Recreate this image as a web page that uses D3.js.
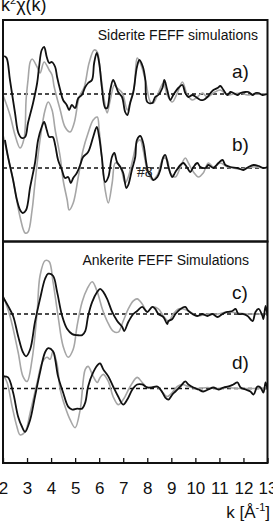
<!DOCTYPE html>
<html>
<head>
<meta charset="utf-8">
<script src="https://cdnjs.cloudflare.com/ajax/libs/d3/7.8.5/d3.min.js"></script>
<style>
body { margin: 0; background: #fff; }
svg { display: block; font-family: "Liberation Sans", Arial, sans-serif; }
</style>
</head>
<body>
<svg id="chart"></svg>
<script>
// data: [k, k^2 chi] (arbitrary units, each curve around its own zero line)
var kTicks = [2, 3, 4, 5, 6, 7, 8, 9, 10, 11, 12, 13];

var sideriteA_exp = [[2.05,3.8],[2.15,3.6],[2.29,1.4],[2.5,-1.9],[2.64,-3.9],[2.78,-4.4],[2.92,-4.3],[3.04,-2.9],[3.25,-0.9],[3.42,1.1],[3.5,2.7],[3.61,4.4],[3.71,4.7],[3.82,3.7],[3.92,3.1],[4.03,3.2],[4.17,2.7],[4.25,1.7],[4.38,0.4],[4.5,-0.6],[4.65,-1.1],[4.75,-1.6],[4.86,-1.1],[5.0,-1.4],[5.13,-0.4],[5.28,-0.1],[5.42,0.7],[5.54,1.1],[5.7,1.4],[5.79,3.1],[5.9,4.1],[6.0,3.1],[6.11,0.7],[6.25,-1.4],[6.33,-1.4],[6.46,0.4],[6.58,1.4],[6.71,0.7],[6.79,0.2],[6.95,-0.3],[7.08,-1.8],[7.17,-2.1],[7.29,-0.9],[7.42,0.2],[7.57,2.7],[7.67,3.4],[7.82,2.7],[7.92,1.4],[8.0,-0.8],[8.21,-0.9],[8.33,-0.3],[8.46,-0.1],[8.63,0.6],[8.71,1.4],[8.83,0.4],[8.96,-0.6],[9.08,-0.1],[9.29,0.6],[9.46,0.9],[9.58,0.1],[9.71,-0.3],[9.88,-0.1],[10.08,-0.4],[10.21,-0.6],[10.33,-0.6],[10.5,-0.3],[10.63,0.1],[10.75,0.4],[10.92,0.6],[11.04,0.8],[11.17,0.4],[11.33,-0.1],[11.46,0.2],[11.58,0.1],[11.75,-0.1],[11.88,0.1],[12.08,0.2],[12.21,0.2],[12.38,-0.1],[12.5,0.1],[12.63,0.1],[12.79,-0.1],[13.0,0]];
var sideriteA_sim = [[2.0,-0.1],[2.29,-2.1],[2.5,-4.1],[2.71,-5.4],[2.88,-4.4],[2.96,-0.6],[3.04,1.4],[3.13,3.2],[3.21,3.5],[3.42,2.7],[3.54,2.1],[3.71,3.2],[3.92,2.4],[4.04,1.9],[4.13,0.7],[4.38,-1.6],[4.58,-3.3],[4.79,-3.8],[4.96,-2.9],[5.17,-0.3],[5.38,0.7],[5.58,3.1],[5.79,4.4],[5.92,4.2],[6.04,2.4],[6.21,-0.6],[6.33,-1.9],[6.46,-0.6],[6.63,0.9],[6.75,0.6],[6.96,0.1],[7.17,-1.6],[7.29,-0.8],[7.46,0.7],[7.58,3.6],[7.71,3.1],[7.92,1.4],[8.13,-0.8],[8.25,-0.9],[8.46,0.1],[8.67,1.1],[8.83,-0.1],[9.04,-0.8],[9.25,0.1],[9.46,1.2],[9.67,-0.1],[9.88,-0.6],[10.08,-0.3],[10.29,0.1],[10.5,-0.3],[10.75,0.1],[11.04,0.4],[11.33,-0.1],[11.58,0],[11.88,0.1],[12.17,-0.1],[12.42,0],[12.83,0],[13.0,0]];
var sideriteB_exp = [[2.08,2.8],[2.21,1.1],[2.42,-1.2],[2.58,-3.2],[2.71,-4.2],[2.82,-4.5],[2.96,-4.2],[3.13,-1.9],[3.33,0.5],[3.46,2.8],[3.61,4.1],[3.71,4.6],[3.82,3.8],[3.92,3.1],[4.07,3.1],[4.17,2.3],[4.29,0.8],[4.45,-0.2],[4.58,-1.0],[4.71,-0.9],[4.82,-1.5],[4.92,-1.0],[5.07,-0.5],[5.21,0.3],[5.33,1.1],[5.54,1.6],[5.75,3.1],[5.9,4.1],[6.0,3.1],[6.11,1.1],[6.25,-1.4],[6.38,-0.9],[6.53,1.1],[6.63,1.5],[6.74,0.6],[6.88,0.1],[7.0,-0.5],[7.13,-2.0],[7.21,-1.7],[7.36,-0.2],[7.5,1.1],[7.57,2.8],[7.71,3.2],[7.83,2.5],[7.96,0.5],[8.04,-0.4],[8.13,-0.7],[8.25,-1.2],[8.42,-0.9],[8.54,-0.2],[8.67,1.1],[8.75,1.3],[8.88,0.1],[9.04,-0.9],[9.17,-0.4],[9.38,0.3],[9.5,0.5],[9.67,0],[9.79,-0.4],[9.92,0.1],[10.08,0.5],[10.21,0.1],[10.42,0],[10.54,0.3],[10.75,0],[10.96,0.5],[11.13,0.8],[11.25,0.3],[11.46,0.1],[11.75,0],[12.0,-0.2],[12.21,0.1],[12.42,0.3],[12.63,0.2],[12.83,0],[13.0,0.1]];
var sideriteB_sim = [[2.0,3.3],[2.08,2.5],[2.17,1.5],[2.42,-1.2],[2.71,-4.9],[2.92,-6.5],[3.04,-6.4],[3.21,-4.2],[3.33,-1.5],[3.54,2.8],[3.75,5.8],[3.88,6.6],[4.04,5.8],[4.17,3.8],[4.38,1.1],[4.5,-1.2],[4.67,-3.2],[4.75,-4.2],[4.92,-3.5],[5.13,-0.9],[5.33,1.8],[5.54,3.5],[5.75,4.8],[5.92,5.1],[6.0,3.8],[6.13,0.5],[6.25,-2.2],[6.38,-3.5],[6.54,-1.5],[6.67,0.5],[6.88,0.1],[7.08,-1.5],[7.21,-0.9],[7.42,1.1],[7.58,2.6],[7.71,2.8],[7.83,1.8],[8.0,-0.2],[8.21,-1.2],[8.42,-0.7],[8.67,1.0],[8.83,0.8],[8.96,-0.5],[9.17,-0.9],[9.38,0.1],[9.58,1.0],[9.71,0.5],[9.92,-0.4],[10.13,-0.9],[10.33,-0.5],[10.54,0.5],[10.75,0.1],[11.04,0.5],[11.33,0.1],[11.58,0],[11.88,-0.1],[12.42,0.1],[12.92,0],[13.0,0]];

var ankeriteC_exp = [[2.0,1.7],[2.21,0.8],[2.42,-0.2],[2.63,-2.2],[2.83,-3.8],[2.96,-4.2],[3.13,-3.5],[3.33,-0.8],[3.54,1.5],[3.75,3.5],[3.88,4.0],[4.08,3.8],[4.25,2.2],[4.46,-0.2],[4.67,-1.5],[4.88,-2.0],[5.08,-2.1],[5.29,-2.1],[5.42,-1.7],[5.54,-0.2],[5.71,1.2],[5.92,2.2],[6.04,2.5],[6.17,2.2],[6.33,1.5],[6.54,0.2],[6.75,-0.7],[6.96,-1.3],[7.04,-1.7],[7.21,-0.8],[7.42,0],[7.58,0.3],[7.79,0.7],[8.0,0.2],[8.21,0.7],[8.33,0.5],[8.46,0],[8.67,-0.3],[8.83,-1.0],[8.88,-0.7],[9.04,-0.5],[9.17,0],[9.38,0.5],[9.58,0.7],[9.71,0.3],[9.88,0],[10.08,-0.2],[10.29,0],[10.5,-0.2],[10.71,0],[10.92,-0.3],[11.13,0],[11.33,0.2],[11.54,0.3],[11.67,0.5],[11.79,0],[11.96,0],[12.17,-0.2],[12.38,-0.7],[12.5,0.2],[12.63,0.5],[12.79,-0.2],[12.83,-0.5],[12.92,0.8],[13.0,-0.2]];
var ankeriteC_sim = [[2.0,1.8],[2.29,-0.2],[2.63,-3.8],[2.83,-6.2],[3.0,-6.7],[3.21,-4.5],[3.42,0.2],[3.54,3.8],[3.75,5.3],[3.92,5.2],[4.08,3.2],[4.29,-0.2],[4.5,-3.2],[4.71,-4.3],[4.92,-3.5],[5.08,-1.2],[5.29,1.2],[5.5,2.5],[5.71,3.2],[5.92,2.2],[6.13,0.5],[6.33,-0.7],[6.58,-1.7],[6.79,-1.8],[7.0,-0.7],[7.21,0.5],[7.42,1.3],[7.58,1.5],[7.79,1.0],[8.0,0.2],[8.21,0.7],[8.46,0.5],[8.67,-0.2],[8.88,-0.7],[9.08,0],[9.29,0.5],[9.5,0.5],[9.79,0.2],[10.08,-0.2],[10.5,0],[10.92,0],[11.33,0.2],[11.75,0.1],[12.17,0],[12.58,0],[13.0,0]];
var ankeriteD_exp = [[2.0,1.2],[2.21,1.1],[2.42,-0.4],[2.63,-2.8],[2.79,-3.8],[2.92,-4.3],[3.13,-3.1],[3.33,-0.8],[3.54,1.6],[3.75,3.6],[3.88,4.0],[4.08,3.7],[4.17,2.9],[4.29,1.2],[4.5,-0.4],[4.71,-1.8],[4.88,-2.1],[5.08,-2.0],[5.29,-2.0],[5.42,-1.4],[5.54,0.2],[5.75,1.6],[5.96,2.4],[6.04,2.5],[6.17,1.9],[6.38,1.2],[6.58,0.2],[6.79,-0.8],[7.0,-1.6],[7.17,-1.1],[7.38,-0.1],[7.58,0.4],[7.79,0.4],[8.0,0.1],[8.21,0.1],[8.42,0.2],[8.63,-0.4],[8.75,-0.9],[8.88,-1.1],[9.04,-0.6],[9.17,-0.3],[9.38,0.2],[9.58,0.7],[9.71,0.4],[9.92,0.1],[10.13,-0.1],[10.33,-0.3],[10.54,-0.1],[10.75,0.1],[10.96,-0.1],[11.17,0.1],[11.38,0.2],[11.58,0.4],[11.75,0.6],[11.88,0.1],[12.08,-0.1],[12.29,-0.3],[12.42,-0.6],[12.58,0.2],[12.71,0.1],[12.83,-0.4],[12.92,0.6],[13.0,-0.1]];
var ankeriteD_sim = [[2.0,1.4],[2.17,0.6],[2.38,-1.8],[2.58,-3.8],[2.71,-4.6],[2.92,-4.3],[3.13,-2.4],[3.42,0.6],[3.63,2.6],[3.83,3.1],[3.96,2.9],[4.08,3.7],[4.25,2.4],[4.38,-0.1],[4.58,-1.8],[4.79,-3.1],[5.0,-3.9],[5.21,-2.1],[5.42,1.9],[5.54,2.2],[5.75,1.2],[5.92,0.6],[6.04,1.1],[6.17,1.4],[6.38,0.7],[6.58,-0.8],[6.79,-1.6],[7.0,-1.1],[7.29,0.2],[7.58,1.1],[7.79,0.6],[8.0,0.1],[8.33,0.2],[8.54,-0.1],[8.83,-0.8],[9.04,-0.4],[9.25,0.2],[9.46,0.4],[9.71,0.2],[10.08,0],[10.5,0.1],[10.92,0],[11.33,0.1],[11.75,0],[12.17,0],[12.58,0],[13.0,0]];

var panelTitles = ["Siderite FEFF simulations", "Ankerite FEFF Simulations"];
var curveLabels = ["a)", "b)", "c)", "d)"];
var offsets = [7.4, 0];   // upper / lower curve of a panel

var width = 273;
var height = 529;

var svg = d3.select("#chart")
    .attr("width", width)
    .attr("height", height);

var x = d3.scaleLinear().domain([2, 13]).range([3, 267.5]);

//one panel = frame, two zero lines, two pairs of curves
var panels = [
    {top: 20, bottom: 241.5, title: panelTitles[0], titleX: 258, titleY: 40,
     curves: [[sideriteA_exp, sideriteA_sim], [sideriteB_exp, sideriteB_sim]],
     labels: [curveLabels[0], curveLabels[1]], labelY: [78, 151]},
    {top: 241.5, bottom: 463, title: panelTitles[1], titleX: 249, titleY: 265,
     curves: [[ankeriteC_exp, ankeriteC_sim], [ankeriteD_exp, ankeriteD_sim]],
     labels: [curveLabels[2], curveLabels[3]], labelY: [299, 369]}
];

var drawPanel = function(p, i)
{
    var y = d3.scaleLinear()
        .domain([-(i == 0 ? 7.35 : 7.4), (i == 0 ? 14.8 : 14.6)])
        .range([p.bottom, p.top]);

    var g = svg.append("g");

    g.append("clipPath").attr("id", "clip" + i)
        .append("rect")
        .attr("x", x(2)).attr("y", p.top)
        .attr("width", x(13) - x(2)).attr("height", p.bottom - p.top);

    //dashed zero lines
    g.selectAll(".zero")
        .data(offsets)
        .enter()
        .append("line")
        .attr("x1", x(2)).attr("x2", x(13))
        .attr("y1", function(o) { return y(o); })
        .attr("y2", function(o) { return y(o); })
        .attr("stroke", "#111")
        .attr("stroke-width", 1.5)
        .attr("stroke-dasharray", "4,3");

    var plot = g.append("g").attr("clip-path", "url(#clip" + i + ")");

    p.curves.forEach(function(pair, j)
    {
        var line = d3.line()
            .x(function(d) { return x(d[0]); })
            .y(function(d) { return y(d[1] + offsets[j]); })
            .curve(d3.curveCatmullRom.alpha(0.5));

        plot.append("path")
            .attr("d", line(pair[1]))
            .attr("fill", "none")
            .attr("stroke", "#a6a6a6")
            .attr("stroke-width", 1.6);

        plot.append("path")
            .attr("d", line(pair[0]))
            .attr("fill", "none")
            .attr("stroke", "#111")
            .attr("stroke-width", 1.8);

        g.append("text")
            .attr("x", 232)
            .attr("y", p.labelY[j])
            .attr("font-size", 19)
            .attr("fill", "#111")
            .text(p.labels[j]);
    });

    g.append("text")
        .attr("x", p.titleX)
        .attr("y", p.titleY)
        .attr("text-anchor", "end")
        .attr("font-size", 14)
        .attr("fill", "#111")
        .text(p.title);

    g.append("rect")
        .attr("x", x(2)).attr("y", p.top)
        .attr("width", x(13) - x(2)).attr("height", p.bottom - p.top)
        .attr("fill", "none")
        .attr("stroke", "#111")
        .attr("stroke-width", 2);
};

panels.forEach(drawPanel);

// "#8" mark on curve b)
svg.append("text")
    .attr("x", 137).attr("y", 177)
    .attr("font-size", 14)
    .attr("fill", "#222")
    .text("#8");

//bottom axis, ticks point up into the frame
var axis = d3.axisBottom(x)
    .tickValues(kTicks)
    .tickSize(-5)
    .tickPadding(14)
    .tickFormat(d3.format("d"));

var ax = svg.append("g")
    .attr("transform", "translate(0,463)")
    .call(axis);
ax.select(".domain").remove();
ax.selectAll(".tick line").attr("stroke", "#111").attr("stroke-width", 1.3);
ax.selectAll(".tick text")
    .attr("font-size", 17)
    .attr("font-family", "Liberation Sans, Arial, sans-serif")
    .attr("fill", "#111")
    .attr("dy", "0.71em")
    .attr("y", 19);

//axis titles
var xt = svg.append("text")
    .attr("x", 270).attr("y", 518)
    .attr("text-anchor", "end")
    .attr("font-size", 17)
    .attr("fill", "#111");
xt.append("tspan").text("k [Å");
xt.append("tspan").attr("font-size", 11).attr("dy", -7).text("-1");
xt.append("tspan").attr("dy", 7).text("]");

var yt = svg.append("text")
    .attr("x", 1).attr("y", 11)
    .attr("font-size", 18)
    .attr("fill", "#111");
yt.append("tspan").text("k");
yt.append("tspan").attr("font-size", 11).attr("dy", -7).text("2");
yt.append("tspan").attr("dy", 7).text("χ(k)");
</script>
</body>
</html>
